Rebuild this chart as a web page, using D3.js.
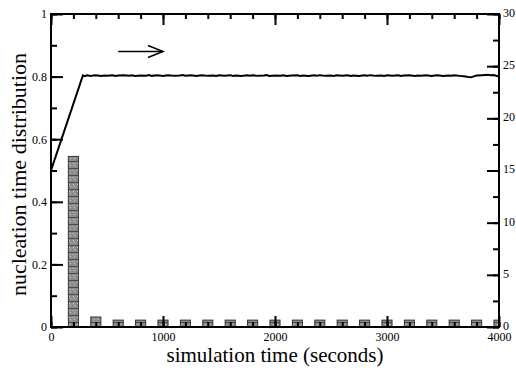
<!DOCTYPE html>
<html>
<head>
<meta charset="utf-8">
<script src="https://cdn.jsdelivr.net/npm/d3@7"></script>
<style>
  body { margin: 0; background: white; }
  svg text { font-family: "Liberation Serif", "DejaVu Serif", serif; }
</style>
</head>
<body>
<div id="chart"></div>
<script>
// histogram of nucleation times (left axis)
const binCenters = [200, 400, 600, 800, 1000, 1200, 1400, 1600, 1800, 2000, 2200, 2400, 2600, 2800, 3000, 3200, 3400, 3600, 3800, 4000];
const binValues  = [0.545, 0.032, 0.022, 0.022, 0.022, 0.022, 0.022, 0.022, 0.022, 0.022, 0.022, 0.022, 0.022, 0.022, 0.022, 0.022, 0.022, 0.022, 0.022, 0.022];

// running quantity (right axis)
const lineTime  = [0, 285, 300, 325, 350, 375, 400, 450, 475, 500, 550, 575, 600, 650, 700, 725, 750, 800, 850, 875, 900, 950, 1000, 1025, 1050, 1100, 1150, 1175, 1200, 1250, 1300, 1325, 1350, 1400, 1450, 1475, 1500, 1550, 1600, 1625, 1650, 1700, 1750, 1775, 1800, 1850, 1900, 1925, 1950, 2000, 2050, 2075, 2100, 2150, 2200, 2225, 2250, 2300, 2350, 2375, 2400, 2450, 2500, 2525, 2550, 2600, 2650, 2675, 2700, 2750, 2800, 2825, 2850, 2900, 2950, 2975, 3000, 3050, 3100, 3125, 3150, 3200, 3250, 3275, 3300, 3350, 3400, 3425, 3450, 3500, 3550, 3575, 3600, 3650, 3700, 3725, 3750, 3775, 3800, 3850, 3900, 3925, 3950, 3975, 4000];
const lineValue = [15, 24.12, 24.05, 24.12, 24.07, 24.1, 24.14, 24.06, 24.11, 24.08, 24.13, 24.06, 24.1, 24.14, 24.08, 24.12, 24.05, 24.11, 24.09, 24.15, 24.07, 24.12, 24.06, 24.1, 24.13, 24.07, 24.11, 24.15, 24.08, 24.12, 24.06, 24.1, 24.13, 24.07, 24.11, 24.06, 24.12, 24.09, 24.14, 24.07, 24.11, 24.06, 24.12, 24.08, 24.13, 24.07, 24.1, 24.14, 24.06, 24.11, 24.08, 24.13, 24.06, 24.1, 24.12, 24.07, 24.11, 24.05, 24.12, 24.09, 24.14, 24.07, 24.1, 24.06, 24.12, 24.08, 24.13, 24.07, 24.11, 24.06, 24.12, 24.09, 24.14, 24.07, 24.11, 24.06, 24.12, 24.08, 24.13, 24.07, 24.1, 24.14, 24.06, 24.11, 24.08, 24.13, 24.07, 24.1, 24.12, 24.06, 24.11, 24.08, 24.13, 24.07, 24.02, 23.96, 23.93, 24.02, 24.1, 24.14, 24.18, 24.12, 24.16, 24.08, 24.0];

const xTicks = [0, 1000, 2000, 3000, 4000];
const leftTicks = [0, 0.2, 0.4, 0.6, 0.8, 1];
const rightTicks = [0, 5, 10, 15, 20, 25, 30];

const width = 516, height = 368;
const margin = { top: 14, right: 17, bottom: 41, left: 51 };
const binWidth = 90;
const serif = '"Liberation Serif", "DejaVu Serif", serif';

const svg = d3.select("#chart").append("svg")
    .attr("width", width)
    .attr("height", height);

const x = d3.scaleLinear().domain([0, 4000]).range([margin.left, width - margin.right]);
const yL = d3.scaleLinear().domain([0, 1]).range([height - margin.bottom, margin.top]);
const yR = d3.scaleLinear().domain([0, 30]).range([height - margin.bottom, margin.top]);

// hatch pattern for the bars
const defs = svg.append("defs");
const pat = defs.append("pattern")
    .attr("id", "hatch")
    .attr("patternUnits", "userSpaceOnUse")
    .attr("width", 4).attr("height", 7);
pat.append("rect").attr("width", 4).attr("height", 7).attr("fill", "#8c8c8c");
pat.append("line").attr("x1", 0).attr("x2", 4).attr("y1", 0.5).attr("y2", 0.5)
    .attr("stroke", "#4a4a4a").attr("stroke-width", 1);
pat.append("rect").attr("x", 1).attr("y", 2).attr("width", 1).attr("height", 1).attr("fill", "#c8c8c8");
pat.append("rect").attr("x", 2).attr("y", 4).attr("width", 1).attr("height", 1).attr("fill", "#c8c8c8");

defs.append("clipPath").attr("id", "plotClip")
  .append("rect")
    .attr("x", margin.left).attr("y", margin.top)
    .attr("width", width - margin.left - margin.right)
    .attr("height", height - margin.top - margin.bottom);

const plot = svg.append("g").attr("clip-path", "url(#plotClip)");

// bars
plot.selectAll(".bar")
    .data(binCenters.map((c, i) => ({ c, v: binValues[i] })))
    .enter()
    .append("rect")
    .attr("class", "bar")
    .attr("x", d => x(d.c - binWidth / 2))
    .attr("width", d => x(d.c + binWidth / 2) - x(d.c - binWidth / 2))
    .attr("y", d => yL(d.v))
    .attr("height", d => yL(0) - yL(d.v))
    .attr("fill", "url(#hatch)")
    .attr("stroke", "#333")
    .attr("stroke-width", 1);

// line
const lineData = lineTime.map((t, i) => ({ t, v: lineValue[i] }));
plot.append("path")
    .datum(lineData)
    .attr("fill", "none")
    .attr("stroke", "black")
    .attr("stroke-width", 2)
    .attr("d", d3.line().x(d => x(d.t)).y(d => yR(d.v)));

// axes, ticks pointing inward
function styleAxis(g) {
    g.attr("font-family", serif);
    g.select(".domain").remove();
    g.selectAll(".tick line").attr("stroke", "black").attr("stroke-width", 2);
    g.selectAll(".tick text")
        .attr("fill", "black")
        .style("font-family", serif)
        .style("font-size", "12px");
}

const xMinor = d3.range(0, 4001, 200);
const leftMinor = d3.range(0, 1.001, 0.1);
const rightMinor = d3.range(0, 30.01, 2.5);

// bottom
svg.append("g").attr("transform", `translate(0,${yL(0)})`)
    .call(d3.axisBottom(x).tickValues(xMinor).tickSize(-5).tickFormat(""))
    .call(styleAxis);
svg.append("g").attr("transform", `translate(0,${yL(0)})`)
    .call(d3.axisBottom(x).tickValues(xTicks).tickSizeInner(-11).tickFormat(d3.format("d")))
    .call(styleAxis)
    .call(g => g.selectAll(".tick text").attr("dy", "0").attr("y", 14));

// top
svg.append("g").attr("transform", `translate(0,${yL(1)})`)
    .call(d3.axisTop(x).tickValues(xMinor).tickSize(-5).tickFormat(""))
    .call(styleAxis);
svg.append("g").attr("transform", `translate(0,${yL(1)})`)
    .call(d3.axisTop(x).tickValues(xTicks).tickSize(-11).tickFormat(""))
    .call(styleAxis);

// left
svg.append("g").attr("transform", `translate(${x(0)},0)`)
    .call(d3.axisLeft(yL).tickValues(leftMinor).tickSize(-6).tickFormat(""))
    .call(styleAxis);
svg.append("g").attr("transform", `translate(${x(0)},0)`)
    .call(d3.axisLeft(yL).tickValues(leftTicks).tickSizeInner(-12).tickFormat(d => d === 0 || d === 1 ? d : d3.format(".1f")(d)))
    .call(styleAxis)
    .call(g => g.selectAll(".tick text").attr("x", -4));

// right
svg.append("g").attr("transform", `translate(${x(4000)},0)`)
    .call(d3.axisRight(yR).tickValues(rightMinor).tickSize(-6).tickFormat(""))
    .call(styleAxis);
svg.append("g").attr("transform", `translate(${x(4000)},0)`)
    .call(d3.axisRight(yR).tickValues(rightTicks).tickSizeInner(-12).tickFormat(d3.format("d")))
    .call(styleAxis)
    .call(g => g.selectAll(".tick text").attr("x", 4).attr("dy", "0.2em"));

// frame
svg.append("rect")
    .attr("x", x(0)).attr("y", yL(1))
    .attr("width", x(4000) - x(0)).attr("height", yL(0) - yL(1))
    .attr("fill", "none")
    .attr("stroke", "black")
    .attr("stroke-width", 2);

// arrow pointing right
const arrowY = 0.88;
svg.append("line")
    .attr("x1", x(600)).attr("x2", x(1000))
    .attr("y1", yL(arrowY)).attr("y2", yL(arrowY))
    .attr("stroke", "black").attr("stroke-width", 1.5);
svg.append("path")
    .attr("d", `M${x(1000) - 15},${yL(arrowY) - 6} L${x(1000)},${yL(arrowY)} L${x(1000) - 15},${yL(arrowY) + 6}`)
    .attr("fill", "none").attr("stroke", "black").attr("stroke-width", 1.5);

// titles
svg.append("text")
    .attr("x", (x(0) + x(4000)) / 2)
    .attr("y", 362)
    .attr("text-anchor", "middle")
    .style("font-size", "21px")
    .text("simulation time (seconds)");

svg.append("text")
    .attr("transform", `translate(26,${(yL(0) + yL(1)) / 2 + 4}) rotate(-90)`)
    .attr("text-anchor", "middle")
    .style("font-size", "22px")
    .text("nucleation time distribution");
</script>
</body>
</html>
